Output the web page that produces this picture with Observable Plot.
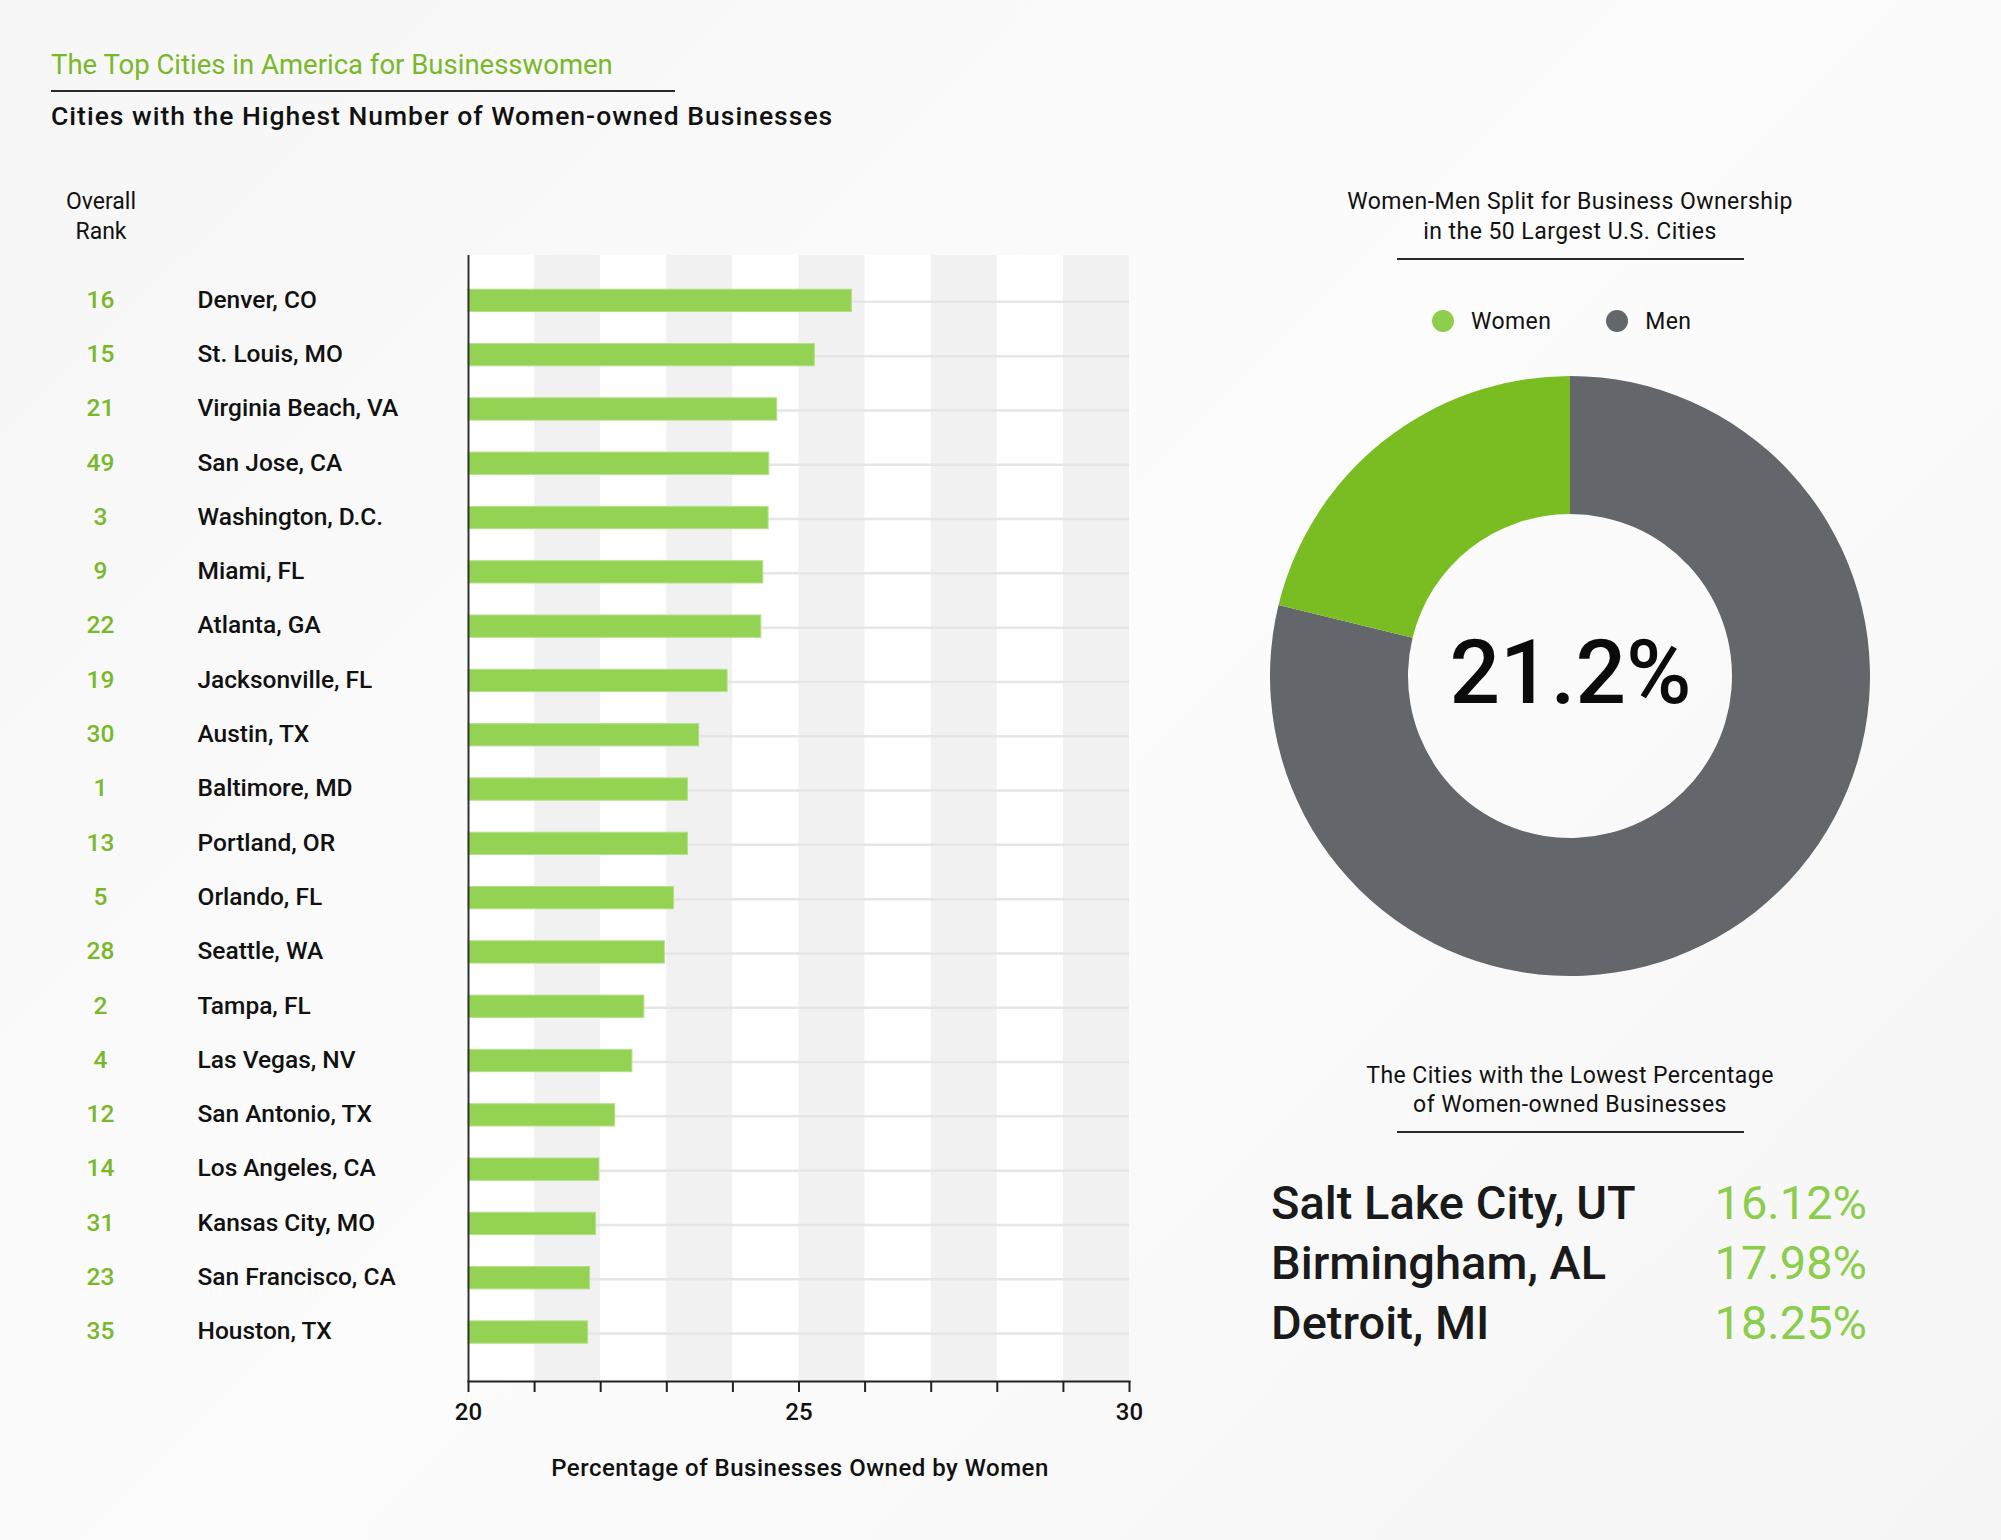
<!DOCTYPE html>
<html>
<head>
<meta charset="utf-8">
<script src="https://cdn.jsdelivr.net/npm/d3@7"></script>
<script src="https://cdn.jsdelivr.net/npm/@observablehq/plot@0.6"></script>
<style>
  html, body { margin: 0; padding: 0; }
  body {
    width: 2001px; height: 1540px; position: relative; overflow: hidden;
    font-family: Roboto, "Noto Sans", sans-serif;
    background: linear-gradient(135deg, #f6f6f6 0%, #fcfcfc 50%, #f5f5f5 100%);
  }
  .abs { position: absolute; white-space: nowrap; }
  .rule { position: absolute; background: #2a2a2a; height: 2px; }
  .center { text-align: center; }
  .legend-item { display: inline-flex; align-items: center; font-size: 23px; color: #111; letter-spacing: 0.4px; }
  .sw { width: 22px; height: 22px; border-radius: 50%; display: inline-block; margin-right: 17px; }
  .row { position: absolute; left: 1271px; width: 596px; height: 60px; line-height: 60px;
         display: flex; justify-content: space-between; font-size: 47px; }
</style>
</head>
<body>
<div id="root"></div>
<script>
// ---------- Data ----------
const cities = ["Denver, CO","St. Louis, MO","Virginia Beach, VA","San Jose, CA","Washington, D.C.","Miami, FL","Atlanta, GA","Jacksonville, FL","Austin, TX","Baltimore, MD","Portland, OR","Orlando, FL","Seattle, WA","Tampa, FL","Las Vegas, NV","San Antonio, TX","Los Angeles, CA","Kansas City, MO","San Francisco, CA","Houston, TX"];
const ranks = [16,15,21,49,3,9,22,19,30,1,13,5,28,2,4,12,14,31,23,35];
const shares = [25.80,25.24,24.67,24.55,24.54,24.46,24.43,23.92,23.49,23.32,23.32,23.11,22.97,22.66,22.48,22.22,21.98,21.93,21.84,21.81];
const xTicks = [20,21,22,23,24,25,26,27,28,29,30];
const xTickLabels = ["20","","","","","25","","","","","30"];

const splitLabels = ["Women","Men"];
const splitValues = [21.2, 78.8];

const lowestCities = ["Salt Lake City, UT","Birmingham, AL","Detroit, MI"];
const lowestValues = ["16.12%","17.98%","18.25%"];

// ---------- Colors ----------
const GREEN_TEXT = "#79b82a";
const BAR_GREEN = "#93d252";
const DONUT_COLORS = ["#79bd22", "#63676b"];
const LEGEND_COLORS = ["#8fce4c", "#63676b"];
const LIST_GREEN = "#8bcd4c";

const data = cities.map((c, i) => ({city: c, rank: ranks[i], value: shares[i]}));
const root = document.getElementById("root");

function addDiv(html, style, cls) {
  const d = document.createElement("div");
  d.className = "abs " + (cls || "");
  d.innerHTML = html;
  Object.assign(d.style, style);
  root.appendChild(d);
  return d;
}

// ---------- Header ----------
addDiv("The Top Cities in America for Businesswomen",
  {left: "51px", top: "51px", fontSize: "27.5px", lineHeight: "27.5px", color: GREEN_TEXT});
const r1 = document.createElement("div"); r1.className = "rule";
Object.assign(r1.style, {left: "51px", top: "90px", width: "624px"}); root.appendChild(r1);
addDiv("Cities with the Highest Number of Women-owned Businesses",
  {left: "51px", top: "103px", fontSize: "26.5px", lineHeight: "26.5px", color: "#111", fontWeight: 500, letterSpacing: "1px"});

addDiv("Overall<br>Rank",
  {left: "41px", width: "120px", top: "187px", fontSize: "23px", lineHeight: "30px", color: "#111"}, "center");

// ---------- Bar chart ----------
const bars = Plot.plot({
  width: 1180, height: 1500,
  marginLeft: 468, marginRight: 51, marginTop: 255, marginBottom: 119,
  style: {background: "transparent", fontFamily: "Roboto, sans-serif", fontSize: "24px", overflow: "visible"},
  x: {domain: [20, 30]},
  y: {domain: cities, paddingInner: 0.589, paddingOuter: 0.663, align: 0.475, round: false, axis: null},
  marks: [
    Plot.rect(xTicks.slice(0, -1), {x1: d => d, x2: d => d + 1, fill: d => (d % 2 ? "#f1f1f1" : "#ffffff")}),
    Plot.ruleY(data, {y: "city", stroke: "#e6e6e6", strokeWidth: 2.5, dy: 1}),
    Plot.barX(data, {y: "city", x1: 20, x2: "value", fill: BAR_GREEN, stroke: "#b4e08a", strokeWidth: 1}),
    Plot.ruleX([20], {stroke: "#333", strokeWidth: 2}),
    Plot.frame({anchor: "bottom", stroke: "#222", strokeWidth: 2}),
    Plot.axisX({ticks: xTicks, tickSize: 11, tickPadding: 10,
      tickFormat: d => xTickLabels[xTicks.indexOf(d)],
      stroke: "#222", strokeWidth: 2, fill: "#111", fontSize: 24, fontWeight: 500, label: null}),
    Plot.text(data, {y: "city", text: "city", frameAnchor: "left", dx: -271, textAnchor: "start",
      fontSize: 24.5, fontWeight: 500, fill: "#111", dy: -1}),
    Plot.text(data, {y: "city", text: d => String(d.rank), frameAnchor: "left", dx: -368, textAnchor: "middle",
      fontSize: 24.5, fontWeight: 500, fill: GREEN_TEXT, dy: -1})
  ]
});
bars.style.position = "absolute"; bars.style.left = "0px"; bars.style.top = "0px";
root.appendChild(bars);

addDiv("Percentage of Businesses Owned by Women",
  {left: "500px", width: "600px", top: "1456px", fontSize: "24px", lineHeight: "24px", color: "#111", fontWeight: 500, letterSpacing: "0.5px"}, "center");

// ---------- Right side: donut ----------
addDiv("Women-Men Split for Business Ownership<br>in the 50 Largest U.S. Cities",
  {left: "1320px", width: "500px", top: "187px", fontSize: "23px", lineHeight: "30px", color: "#111", letterSpacing: "0.45px"}, "center");
const r2 = document.createElement("div"); r2.className = "rule";
Object.assign(r2.style, {left: "1397px", top: "258px", width: "347px"}); root.appendChild(r2);

// legend
const legend = document.createElement("div");
legend.className = "abs";
Object.assign(legend.style, {left: "1432px", top: "306px", height: "30px", display: "flex", gap: "55px", alignItems: "center"});
splitLabels.forEach((lab, i) => {
  const it = document.createElement("span");
  it.className = "legend-item";
  it.innerHTML = `<span class="sw" style="background:${LEGEND_COLORS[i]}"></span>${lab}`;
  legend.appendChild(it);
});
root.appendChild(legend);

const OUTER = 300, INNER = 162;
const pieData = splitLabels.map((l, i) => ({label: l, value: splitValues[i], color: DONUT_COLORS[i]}));
const donut = Plot.plot({
  width: 640, height: 640, margin: 0,
  style: {background: "transparent", fontFamily: "Roboto, sans-serif", overflow: "visible"},
  marks: [
    (index, scales, values, dims) => {
      const w = (dims && dims.width) || 640, h = (dims && dims.height) || 640;
      const g = d3.create("svg:g").attr("transform", `translate(${w / 2},${h / 2})`);
      const ordered = [pieData[1], pieData[0]]; // Men clockwise from 12 o'clock, then Women
      const arcs = d3.pie().sort(null).value(d => d.value)(ordered);
      const arc = d3.arc().innerRadius(INNER).outerRadius(OUTER);
      g.selectAll("path").data(arcs).join("path")
        .attr("d", arc).attr("fill", d => d.data.color);
      return g.node();
    },
    Plot.text([splitValues[0]], {text: d => d + "%", frameAnchor: "middle", fontSize: 89, fontWeight: 500, fill: "#0b0b0b", dy: -2})
  ]
});
donut.style.position = "absolute"; donut.style.left = "1250px"; donut.style.top = "356px";
root.appendChild(donut);

// ---------- Lowest list ----------
addDiv("The Cities with the Lowest Percentage<br>of Women-owned Businesses",
  {left: "1320px", width: "500px", top: "1061px", fontSize: "23px", lineHeight: "29px", color: "#111", letterSpacing: "0.45px"}, "center");
const r3 = document.createElement("div"); r3.className = "rule";
Object.assign(r3.style, {left: "1397px", top: "1131px", width: "347px"}); root.appendChild(r3);

lowestCities.forEach((c, i) => {
  const row = document.createElement("div");
  row.className = "row";
  row.style.top = (1173 + i * 60) + "px";
  row.innerHTML = `<span style="color:#1a1a1a;font-weight:500">${c}</span><span style="color:${LIST_GREEN}">${lowestValues[i]}</span>`;
  root.appendChild(row);
});
</script>
</body>
</html>
